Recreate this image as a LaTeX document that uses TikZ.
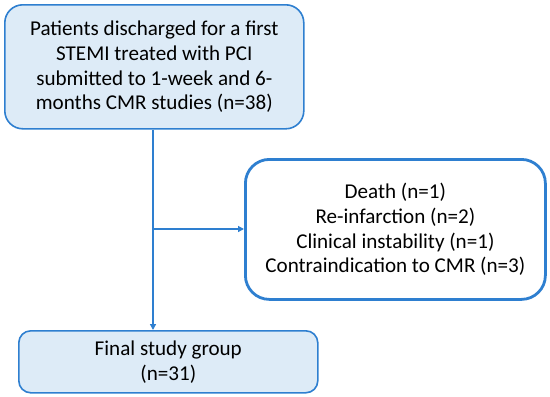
\documentclass[tikz,border=0pt]{standalone}
\usepackage{fontspec}
\setmainfont{Carlito}
\usetikzlibrary{arrows.meta}
\definecolor{bord}{HTML}{2E7FD0}
\definecolor{fillb}{HTML}{DDEBF7}
\begin{document}
\begin{tikzpicture}[x=1pt,y=-1pt,
  box/.style={draw=bord, line width=1.6pt, fill=fillb, align=center, inner sep=0pt,
    font=\fontsize{21.1}{24.8}\selectfont, anchor=north west},
  conn/.style={draw=bord, line width=1.3pt, -{Triangle[length=6pt,width=6pt]}}]
\useasboundingbox (0,0) rectangle (550,397);
\node[box, rounded corners=18pt, minimum width=299pt, minimum height=124pt] (top) at (4,4)
  {Patients discharged for a first\\STEMI treated with PCI\\submitted to 1-week and 6-\\months CMR studies (n=38)};
\node[box, rounded corners=12pt, minimum width=299pt, minimum height=62pt] (fin) at (18,330)
  {Final study group\\(n=31)};
\node[box, fill=white, line width=2.8pt, rounded corners=24pt, minimum width=300pt, minimum height=140pt] (exc) at (244,158)
  {Death (n=1)\\Re-infarction (n=2)\\Clinical instability (n=1)\\Contraindication to CMR (n=3)};
\coordinate (br) at (153,229);
\draw[conn] (top.south -| br) -- (fin.north -| br);
\draw[conn] (br) -- (exc.west |- br);
\end{tikzpicture}
\end{document}
